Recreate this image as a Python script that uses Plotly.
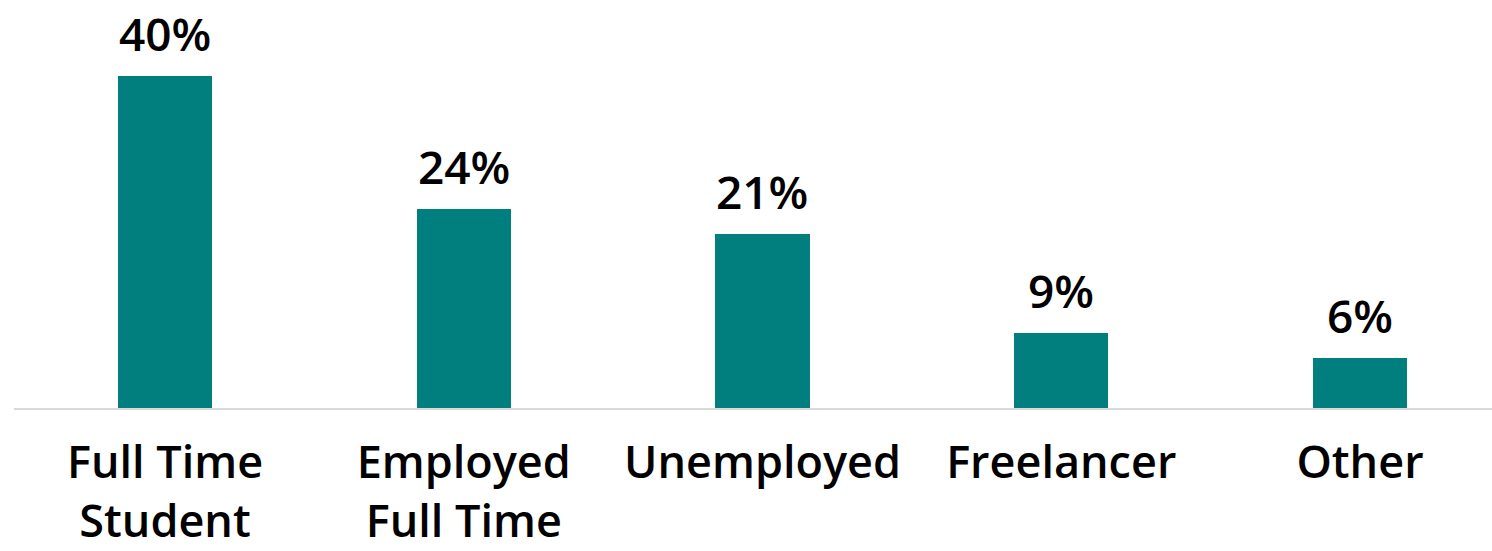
import plotly.graph_objects as go

# Employment status breakdown
categories = ["Full Time<br>Student", "Employed<br>Full Time", "Unemployed", "Freelancer", "Other"]
shares = [40, 24, 21, 9, 6]
value_labels = [f"{v}%" for v in shares]

BAR_COLOR = "#017F7E"
FONT = "Open Sans"

fig = go.Figure(
    go.Bar(
        x=list(range(len(categories))),
        y=shares,
        width=0.315,
        marker=dict(color=BAR_COLOR, line=dict(width=0)),
        hoverinfo="skip",
    )
)

# Value labels above each bar
for i, (v, t) in enumerate(zip(shares, value_labels)):
    fig.add_annotation(
        x=i, y=v, text=t, showarrow=False,
        xanchor="center", yanchor="bottom", yshift=10,
        font=dict(family=FONT, size=46, color="#000000", weight=600),
    )

fig.update_layout(
    width=1492, height=551,
    margin=dict(l=14, r=0, t=0, b=143),
    plot_bgcolor="white", paper_bgcolor="white",
    showlegend=False,
    bargap=0,
)
fig.update_xaxes(
    range=[-0.5054, 4.4419],
    tickmode="array",
    tickvals=list(range(len(categories))),
    ticktext=categories,
    tickfont=dict(family=FONT, size=45, color="#000000", weight=600),
    ticks="", showgrid=False, zeroline=False,
    showline=True, linecolor="#D9D9D9", linewidth=2,
    ticklabelstandoff=14,
    automargin=False,
)
fig.update_yaxes(
    range=[0, 49.16], visible=False, showgrid=False, zeroline=False,
    automargin=False,
)

fig.write_html("out.html")
